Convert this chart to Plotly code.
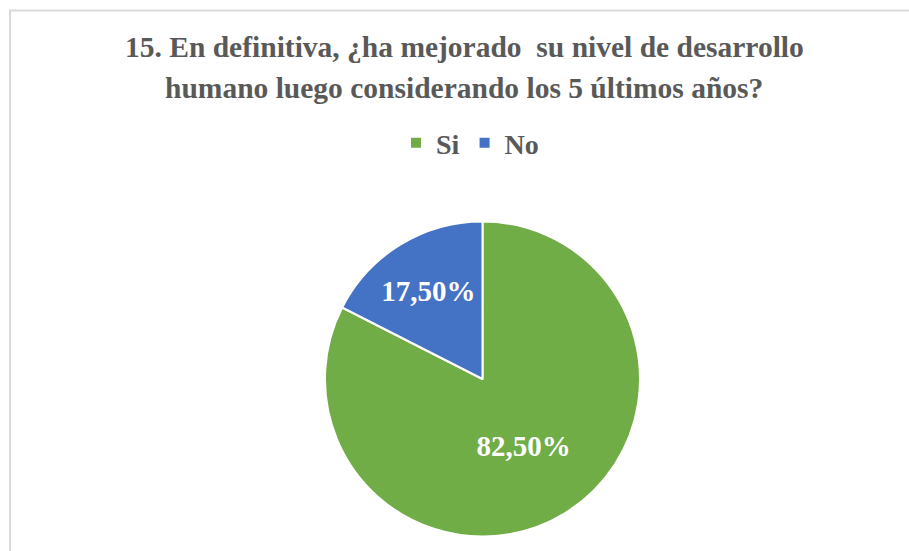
import plotly.graph_objects as go

labels = ["Si", "No"]
values = [82.5, 17.5]
colors = ["#70AD47", "#4472C4"]
title_lines = ["15. En definitiva, ¿ha mejorado  su nivel de desarrollo",
               "humano luego considerando los 5 últimos años?"]

W, H = 909, 551
FONT = "Liberation Serif"

fig = go.Figure(go.Pie(
    labels=labels,
    values=values,
    marker=dict(colors=colors, line=dict(color="white", width=2)),
    sort=False,
    direction="clockwise",
    rotation=0,
    texttemplate="%{percent:.2%}",
    textposition="inside",
    insidetextorientation="horizontal",
    textfont=dict(family=FONT, size=29, color="white", weight="bold"),
    domain=dict(x=[0.3008, 0.7608], y=[1 - 536.5 / H, 1 - 221.5 / H]),
    hoverinfo="label+percent",
))

annotations = []
for line, ypx in zip(title_lines, [47, 88]):
    annotations.append(dict(
        text=line, x=464 / W, y=1 - ypx / H, xref="paper", yref="paper",
        xanchor="center", yanchor="middle", showarrow=False,
        font=dict(family=FONT, size=29.5, color="#595959", weight="bold"),
    ))

fig.update_layout(
    width=W, height=H,
    margin=dict(l=0, r=0, t=0, b=0),
    paper_bgcolor="white",
    plot_bgcolor="white",
    separators=",.",
    showlegend=True,
    legend=dict(
        orientation="h", x=470 / W, xanchor="center",
        y=1 - 143 / H, yanchor="middle",
        font=dict(family=FONT, size=28, color="#595959", weight="bold"),
        itemclick=False,
    ),
    annotations=annotations,
    shapes=[dict(
        type="rect", xref="paper", yref="paper",
        x0=10 / W, x1=1.2, y0=-0.2, y1=1 - 10.5 / H,
        line=dict(color="#D9D9D9", width=2), fillcolor="rgba(0,0,0,0)",
        layer="below",
    )],
)

fig.write_html(
    "out.html",
    config={"displayModeBar": False},
    post_script="document.body.style.margin='0';document.body.style.overflow='hidden';",
)
